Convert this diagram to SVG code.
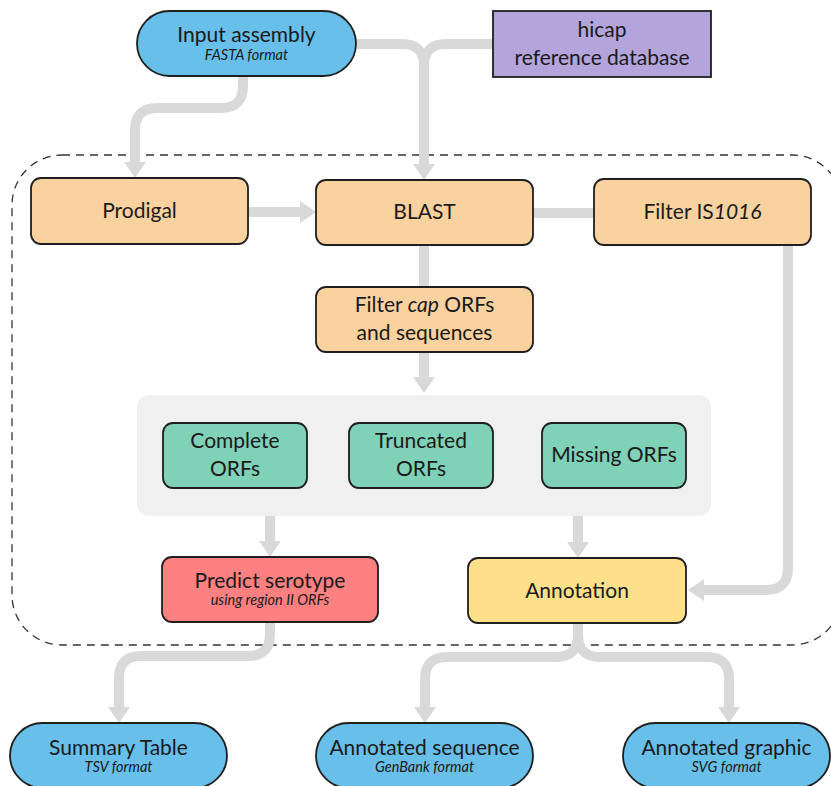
<svg xmlns="http://www.w3.org/2000/svg" width="831" height="786" viewBox="0 0 831 786">
<style>
text{font-family:Lato,"Open Sans","Liberation Sans",sans-serif;fill:#1a1a1a;text-anchor:middle}
.t{font-size:21px}
.s{font-size:14.5px;font-style:italic}
.box{stroke:#1f1f1f;stroke-width:1.8}
.pill{fill:#67bfea}
.orange{fill:#fad2a0}
.green{fill:#7fd1b7}
.conn path{fill:none;stroke:#d9d9d9;stroke-width:10}
</style>
<defs>
<marker id="ah" viewBox="0 0 16 22" markerWidth="16" markerHeight="22" markerUnits="userSpaceOnUse" refX="0" refY="11" orient="auto">
<path d="M0,0 L16,11 L0,22 Z" fill="#d9d9d9"/>
</marker>
</defs>
<rect x="12" y="155" width="830" height="490" rx="50" fill="none" stroke="#333" stroke-width="1.3" stroke-dasharray="8,6"/>
<rect id="panel" x="137" y="395" width="574" height="121" rx="12" fill="#f0f0f0"/>
<g id="connectors" class="conn">
<path d="M356,44 H402 Q424,44 424,66 V164" marker-end="url(#ah)"/>
<path d="M493,44 H446 Q424,44 424,66"/>
<path d="M243,76 V86 Q243,108 221,108 H157 Q135,108 135,130 V162" marker-end="url(#ah)"/>
<path d="M248,212 H300" marker-end="url(#ah)"/>
<path d="M533,213 H594"/>
<path d="M424,245 V287"/>
<path d="M424,352 V377" marker-end="url(#ah)"/>
<path d="M270,516 V541" marker-end="url(#ah)"/>
<path d="M578,516 V542" marker-end="url(#ah)"/>
<path d="M788,245 V568 Q788,590 766,590 H704" marker-end="url(#ah)"/>
<path d="M270,622 V634 Q270,656 248,656 H141 Q119,656 119,678 V707" marker-end="url(#ah)"/>
<path d="M578,623 V635 Q578,657 556,657 H447 Q425,657 425,679 V707" marker-end="url(#ah)"/>
<path d="M578,635 Q578,657 600,657 H707 Q729,657 729,679 V707" marker-end="url(#ah)"/>
</g>
<g id="input">
<rect class="box pill" x="137" y="11" width="219" height="65" rx="32.5"/>
<text class="t" x="246.5" y="42">Input assembly</text>
<text class="s" x="246.5" y="60">FASTA format</text>
</g>
<g id="hicap">
<rect class="box" x="493" y="11" width="218" height="66" fill="#b4a4dc"/>
<text class="t" x="602" y="37">hicap</text>
<text class="t" x="602" y="65">reference database</text>
</g>
<g id="prodigal">
<rect class="box orange" x="31" y="178" width="217" height="66" rx="10"/>
<text class="t" x="139.5" y="218">Prodigal</text>
</g>
<g id="blast">
<rect class="box orange" x="316" y="180" width="217" height="65" rx="10"/>
<text class="t" x="424.5" y="219">BLAST</text>
</g>
<g id="filteris">
<rect class="box orange" x="594" y="179" width="217" height="66" rx="10"/>
<text class="t" x="702.5" y="219">Filter IS<tspan font-style="italic">1016</tspan></text>
</g>
<g id="filtercap">
<rect class="box orange" x="316" y="287" width="217" height="65" rx="10"/>
<text class="t" x="424.5" y="312">Filter <tspan font-style="italic">cap</tspan> ORFs</text>
<text class="t" x="424.5" y="340">and sequences</text>
</g>
<g id="complete">
<rect class="box green" x="163" y="423" width="144" height="65" rx="10"/>
<text class="t" x="235" y="448">Complete</text>
<text class="t" x="235" y="476">ORFs</text>
</g>
<g id="truncated">
<rect class="box green" x="349" y="423" width="144" height="65" rx="10"/>
<text class="t" x="421" y="448">Truncated</text>
<text class="t" x="421" y="476">ORFs</text>
</g>
<g id="missing">
<rect class="box green" x="542" y="423" width="144" height="65" rx="10"/>
<text class="t" x="614" y="462">Missing ORFs</text>
</g>
<g id="predict">
<rect class="box" x="162" y="557" width="216" height="65" rx="10" fill="#ff8080"/>
<text class="t" x="270" y="588">Predict serotype</text>
<text class="s" x="270" y="605">using region II ORFs</text>
</g>
<g id="annotation">
<rect class="box" x="468" y="558" width="218" height="65" rx="10" fill="#ffe08a"/>
<text class="t" x="577" y="598">Annotation</text>
</g>
<g id="summary">
<rect class="box pill" x="10" y="723" width="217" height="65" rx="32.5"/>
<text class="t" x="118.5" y="755">Summary Table</text>
<text class="s" x="118.5" y="772">TSV format</text>
</g>
<g id="annseq">
<rect class="box pill" x="316" y="723" width="217" height="65" rx="32.5"/>
<text class="t" x="424.5" y="755">Annotated sequence</text>
<text class="s" x="424.5" y="772">GenBank format</text>
</g>
<g id="anngraphic">
<rect class="box pill" x="623" y="723" width="207" height="65" rx="32.5"/>
<text class="t" x="726.5" y="755">Annotated graphic</text>
<text class="s" x="726.5" y="772">SVG format</text>
</g>
</svg>
